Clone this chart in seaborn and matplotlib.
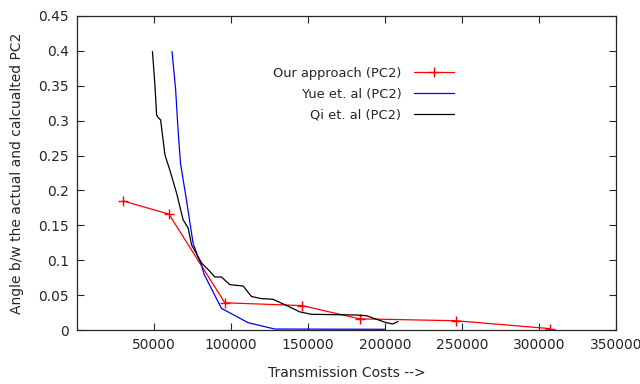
import matplotlib
matplotlib.use("Agg")
import matplotlib.pyplot as plt
import pandas as pd
import seaborn as sns

# Our approach (PC2)
ours_x = [29800, 59700, 96000, 146000, 183500, 246000, 307000]
ours_y = [0.185, 0.166, 0.039, 0.035, 0.016, 0.0133, 0.002]

# Yue et. al (PC2)
yue_x = [61700, 64000, 65700, 67200, 71100, 75400, 78500, 80900, 82500, 93800,
         111100, 128400, 200000]
yue_y = [0.399, 0.346, 0.284, 0.239, 0.186, 0.124, 0.105, 0.093, 0.080, 0.031,
         0.0105, 0.0014, 0.001]

# Qi et. al (PC2)
qi_x = [49000, 50600, 51700, 52500, 54300, 57100, 60300, 64700, 68900, 72200,
        74400, 80900, 86300, 89500, 93800, 99200, 107900, 113300, 119800, 127300,
        138100, 144600, 152200, 181400, 187900, 200800, 205100, 208400]
qi_y = [0.399, 0.351, 0.308, 0.305, 0.301, 0.251, 0.229, 0.196, 0.158, 0.146,
        0.122, 0.096, 0.084, 0.076, 0.076, 0.065, 0.063, 0.048, 0.045, 0.044,
        0.033, 0.026, 0.0225, 0.0215, 0.0205, 0.0105, 0.0086, 0.012]

x_ticks = [50000, 100000, 150000, 200000, 250000, 300000, 350000]
x_tick_labels = ["50000", "100000", "150000", "200000", "250000", "300000", "350000"]
y_ticks = [0, 0.05, 0.1, 0.15, 0.2, 0.25, 0.3, 0.35, 0.4, 0.45]
y_tick_labels = ["0", "0.05", "0.1", "0.15", "0.2", "0.25", "0.3", "0.35", "0.4", "0.45"]

sns.set_style("ticks")
plt.rcParams["font.family"] = ["DejaVu Sans"]

fig = plt.figure(figsize=(6.4, 3.84), dpi=100)
ax = fig.add_axes([77 / 640, 54 / 384, (616 - 77) / 640, (330 - 16) / 384])

df_ours = pd.DataFrame({"x": ours_x, "y": ours_y})
df_yue = pd.DataFrame({"x": yue_x, "y": yue_y})
df_qi = pd.DataFrame({"x": qi_x, "y": qi_y})

sns.lineplot(data=df_ours, x="x", y="y", ax=ax, color="#ff0000", linewidth=0.9,
             marker="+", markersize=7.5, markeredgewidth=1.0,
             markeredgecolor="#ff0000", sort=False,
             estimator=None, label="Our approach (PC2)")
sns.lineplot(data=df_yue, x="x", y="y", ax=ax, color="#0000ff", linewidth=0.9,
             sort=False, estimator=None, label="Yue et. al (PC2)")
sns.lineplot(data=df_qi, x="x", y="y", ax=ax, color="#000000", linewidth=0.9,
             sort=False, estimator=None, label="Qi et. al (PC2)")

ax.set_xlim(0, 350000)
ax.set_ylim(0, 0.45)
ax.set_xticks(x_ticks)
ax.set_xticklabels(x_tick_labels)
ax.set_yticks(y_ticks)
ax.set_yticklabels(y_tick_labels)
ax.tick_params(direction="in", length=5, width=0.8, labelsize=10,
               top=True, right=True, pad=6)
for side in ax.spines.values():
    side.set_linewidth(0.9)
    side.set_visible(True)

ax.set_xlabel("Transmission Costs -->", fontsize=10, labelpad=10)
ax.set_ylabel("Angle b/w the actual and calcualted PC2", fontsize=10, labelpad=10)

leg = ax.legend(loc="upper right", bbox_to_anchor=(0.724, 0.85),
                bbox_transform=fig.transFigure, frameon=False, markerfirst=False,
                fontsize=9.4, handlelength=3.1, handletextpad=0.95, labelspacing=0.62,
                borderpad=0.2)
for txt in leg.get_texts():
    txt.set_ha("right")

fig.savefig("out.png", dpi=100)
